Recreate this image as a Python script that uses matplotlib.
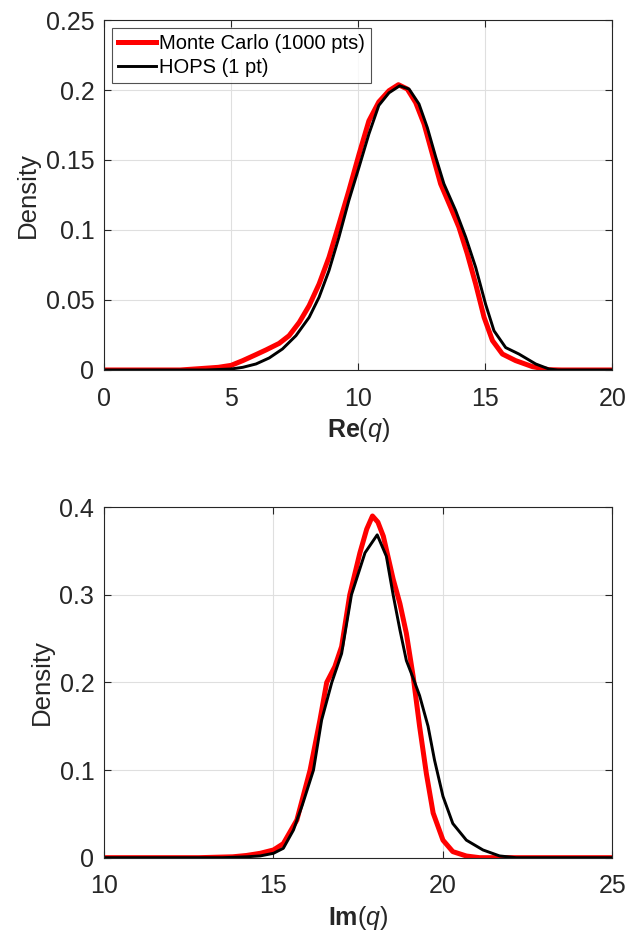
import numpy as np
import matplotlib
matplotlib.use("Agg")
import matplotlib.pyplot as plt

plt.rcParams["font.family"] = ["Liberation Sans", "DejaVu Sans"]
plt.rcParams["mathtext.fontset"] = "custom"
plt.rcParams["mathtext.rm"] = "Liberation Sans"
plt.rcParams["mathtext.it"] = "Liberation Sans:italic"
plt.rcParams["mathtext.bf"] = "Liberation Sans:bold"

# Re(q) densities
re_mc_x = [0, 3.0, 3.8, 4.5, 5.0, 5.46, 5.98, 6.37, 6.89, 7.28, 7.68, 8.07, 8.46, 8.85,
           9.24, 9.63, 10.03, 10.42, 10.81, 11.21, 11.58, 11.93, 12.26, 12.59, 12.92,
           13.24, 13.64, 13.96, 14.29, 14.62, 14.95, 15.28, 15.67, 16.19, 16.85, 17.5,
           18.0, 20]
re_mc_y = [0, 0, 0.001, 0.0019, 0.0033, 0.0067, 0.011, 0.0143, 0.019, 0.0245, 0.034,
           0.046, 0.0614, 0.0805, 0.104, 0.128, 0.154, 0.178, 0.1915, 0.1995, 0.2038,
           0.2007, 0.191, 0.1757, 0.154, 0.133, 0.116, 0.102, 0.083, 0.0614, 0.0376,
           0.021, 0.0114, 0.0067, 0.0024, 0.0002, 0, 0]
re_hops_x = [0, 4.0, 5.0, 5.46, 5.98, 6.5, 7.02, 7.55, 8.07, 8.46, 8.85, 9.24, 9.63,
             10.03, 10.42, 10.81, 11.21, 11.63, 12.0, 12.39, 12.72, 13.05, 13.37, 13.83,
             14.23, 14.62, 15.01, 15.34, 15.8, 16.32, 16.98, 17.5, 17.85, 20]
re_hops_y = [0, 0, 0.0007, 0.0019, 0.0043, 0.0086, 0.015, 0.0245, 0.0376, 0.052, 0.071,
             0.0948, 0.121, 0.1448, 0.1686, 0.189, 0.198, 0.203, 0.2007, 0.19, 0.173,
             0.152, 0.133, 0.114, 0.0948, 0.0733, 0.047, 0.028, 0.016, 0.0114, 0.0043,
             0.0007, 0, 0]

# Im(q) densities
im_mc_x = [10, 12.8, 13.8, 14.2, 14.61, 15.0, 15.29, 15.69, 16.08, 16.37, 16.57, 16.81,
           17.01, 17.25, 17.55, 17.75, 17.92, 18.08, 18.24, 18.53, 18.73, 18.92, 19.12,
           19.31, 19.51, 19.71, 20.0, 20.29, 20.69, 21.08, 25]
im_mc_y = [0, 0, 0.001, 0.0025, 0.005, 0.0088, 0.016, 0.043, 0.1, 0.157, 0.2, 0.218,
           0.241, 0.3, 0.348, 0.375, 0.39, 0.383, 0.367, 0.318, 0.29, 0.256, 0.207, 0.15,
           0.096, 0.051, 0.02, 0.0069, 0.0019, 0, 0]
im_hops_x = [10, 13.5, 14.2, 14.61, 15.0, 15.29, 15.59, 15.85, 16.18, 16.42, 16.72,
             17.01, 17.3, 17.7, 18.06, 18.33, 18.53, 18.73, 18.92, 19.12, 19.31, 19.56,
             19.75, 20.0, 20.29, 20.69, 21.18, 21.67, 22.16, 25]
im_hops_y = [0, 0, 0.001, 0.002, 0.005, 0.0107, 0.0316, 0.06, 0.1, 0.157, 0.2, 0.233,
             0.3, 0.348, 0.3685, 0.344, 0.3, 0.26, 0.225, 0.205, 0.185, 0.15, 0.1115,
             0.07, 0.039, 0.02, 0.0088, 0.002, 0, 0]

re_xticks = [0, 5, 10, 15, 20]
re_yticks = [0, 0.05, 0.1, 0.15, 0.2, 0.25]
im_xticks = [10, 15, 20, 25]
im_yticks = [0, 0.1, 0.2, 0.3, 0.4]

dark = "#262626"


def style_axes(ax, xticks, yticks, xlabel):
    ax.set_xlim(xticks[0], xticks[-1])
    ax.set_ylim(yticks[0], yticks[-1])
    ax.set_xticks(xticks)
    ax.set_yticks(yticks)
    ax.set_xticklabels(["%g" % t for t in xticks])
    ax.set_yticklabels(["%g" % t for t in yticks])
    ax.tick_params(direction="in", top=True, right=True, length=5, width=0.8,
                   labelsize=18, colors=dark)
    ax.tick_params(axis="x", pad=12)
    ax.tick_params(axis="y", pad=7)
    for s in ax.spines.values():
        s.set_color(dark)
        s.set_linewidth(0.8)
    ax.grid(True, color="#dfdfdf", lw=0.8)
    ax.set_axisbelow(True)
    ax.set_xlabel(xlabel, fontsize=18, color=dark, labelpad=4)
    ax.set_ylabel("Density", fontsize=18.5, color=dark, labelpad=4)


fig = plt.figure(figsize=(6.36, 9.35), dpi=100)
ax1 = fig.add_axes([0.1635, 0.6043, 0.7995, 0.3743])
ax2 = fig.add_axes([0.1635, 0.0827, 0.7995, 0.3748])

ax1.plot(re_mc_x, re_mc_y, color="red", lw=3.6, solid_joinstyle="round",
         label="Monte Carlo (1000 pts)")
ax1.plot(re_hops_x, re_hops_y, color="black", lw=2.1, solid_joinstyle="round",
         label="HOPS (1 pt)")
style_axes(ax1, re_xticks, re_yticks, r"$\mathbf{Re}(\mathit{q})$")
leg = ax1.legend(loc="upper left", fontsize=14.5, frameon=True, fancybox=False,
                 handlelength=1.9, handletextpad=0.15, labelspacing=0.25,
                 borderpad=0.3, borderaxespad=0.4)
leg.get_frame().set_edgecolor(dark)
leg.get_frame().set_linewidth(0.8)

ax2.plot(im_mc_x, im_mc_y, color="red", lw=3.6, solid_joinstyle="round")
ax2.plot(im_hops_x, im_hops_y, color="black", lw=2.1, solid_joinstyle="round")
style_axes(ax2, im_xticks, im_yticks, r"$\mathbf{Im}(\mathit{q})$")

fig.savefig("out.png", dpi=100)
